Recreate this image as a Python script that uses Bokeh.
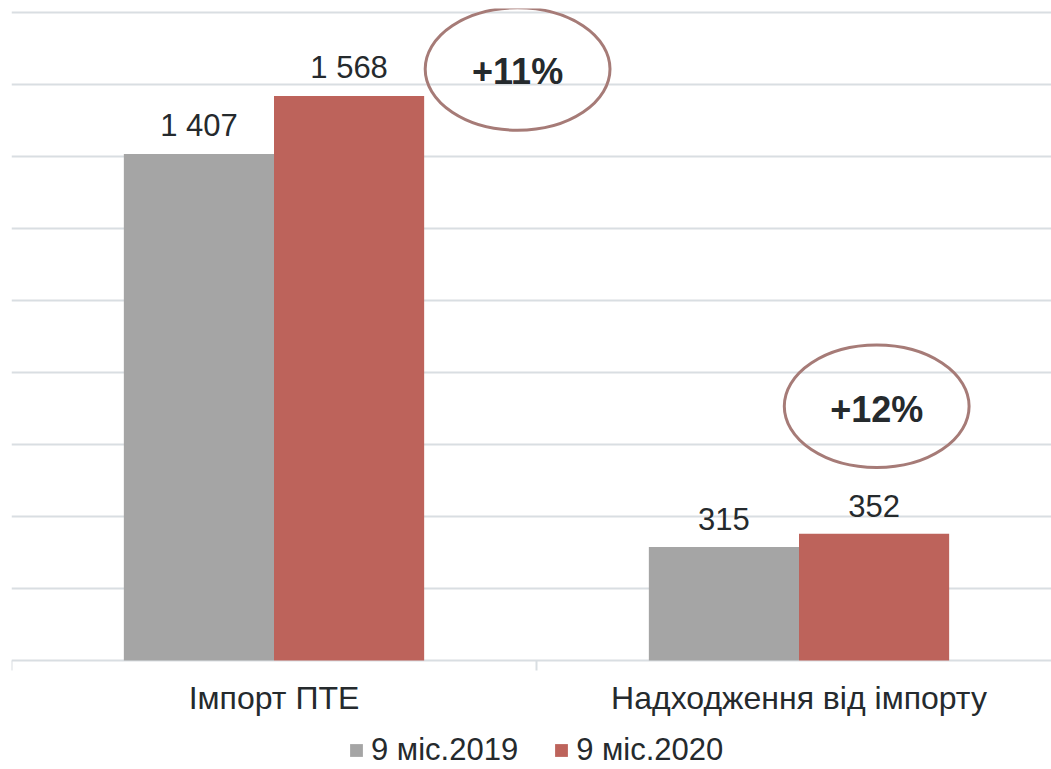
from bokeh.plotting import figure
from bokeh.models import Range1d, FixedTicker, Legend, LegendItem, ColumnDataSource
from bokeh.core.properties import value
from bokeh.embed import file_html
from bokeh.resources import INLINE
import numpy as np

# ---- data ----
categories = ["Імпорт ПТЕ", "Надходження від імпорту"]
series_names = ["9 міс.2019", "9 міс.2020"]
values_2019 = [1407, 315]
values_2020 = [1568, 352]
pct_labels = ["+11%", "+12%"]

# ---- styles ----
FONT = "Liberation Sans"
GRAY = "#A5A5A5"
RED = "#BD635B"
TEXT = "#252A2D"
GRID = "#D9DEE2"
OVAL = "#A67B77"

Y_TOP = 1811
PX_PER_UNIT = 652 / Y_TOP          # value axis scale (px per unit)
FRAME_H = 761
Y_BOTTOM = Y_TOP - FRAME_H / PX_PER_UNIT   # room below the baseline for labels & legend

idx = np.arange(len(categories)) + 0.5
off = 0.143
bw = 0.286

p = figure(frame_width=1040, frame_height=FRAME_H, output_backend="svg", toolbar_location=None,
           x_range=Range1d(0, 1040 / 525), y_range=Range1d(Y_BOTTOM, Y_TOP),
           x_axis_location=None, y_axis_location=None,
           min_border_left=11, min_border_right=0, min_border_top=8, min_border_bottom=0)
p.outline_line_color = None
p.xgrid.visible = False
p.ygrid.ticker = FixedTicker(ticks=list(range(0, 1801, 200)))
p.ygrid.grid_line_color = GRID
p.ygrid.grid_line_width = 2

src = ColumnDataSource(dict(x1=idx - off, x2=idx + off, v1=values_2019, v2=values_2020,
                            t1=[f"{v:,}".replace(",", " ") for v in values_2019],
                            t2=[f"{v:,}".replace(",", " ") for v in values_2020]))

r1 = p.vbar(x="x1", top="v1", width=bw, source=src, fill_color=GRAY, line_color=None)
r2 = p.vbar(x="x2", top="v2", width=bw, source=src, fill_color=RED, line_color=None)

for xs, ys, ts in (("x1", "v1", "t1"), ("x2", "v2", "t2")):
    p.text(x=xs, y=ys, text=ts, source=src, text_align="center", text_baseline="alphabetic",
           y_offset=-28, text_font=value(FONT), text_font_size="31px", text_color=TEXT)

# category axis: boundary ticks and labels under the baseline
bounds = list(range(len(categories) + 1))
p.segment(x0=bounds, y0=[0] * len(bounds), x1=bounds, y1=[-10 / PX_PER_UNIT] * len(bounds),
          line_color=GRID, line_width=2)
p.text(x=idx, y=[0] * len(categories), text=categories, text_align="center",
       text_baseline="alphabetic", y_offset=37,
       text_font=value(FONT), text_font_size="32px", text_color=TEXT)

# ovals with growth labels
ox = [0.964, 1.648]
oy = [1643, 706]
p.ellipse(x=ox, y=oy, width=0.352, height=340, fill_color=None, line_color=OVAL, line_width=3)
p.text(x=ox, y=oy, text=pct_labels, text_align="center", text_baseline="middle", y_offset=3,
       text_font=value(FONT), text_font_size="36px", text_font_style="bold", text_color=TEXT)

legend = Legend(items=[LegendItem(label=series_names[0], renderers=[r1]),
                       LegendItem(label=series_names[1], renderers=[r2])],
                orientation="horizontal", location=(337, 1),
                label_text_font=FONT, label_text_font_size="31px", label_text_color=TEXT,
                glyph_width=16, glyph_height=16, label_standoff=7, spacing=35,
                border_line_color=None, background_fill_alpha=0, padding=0, margin=0)
p.add_layout(legend, "center")

open("out.html", "w").write(file_html(p, INLINE))
